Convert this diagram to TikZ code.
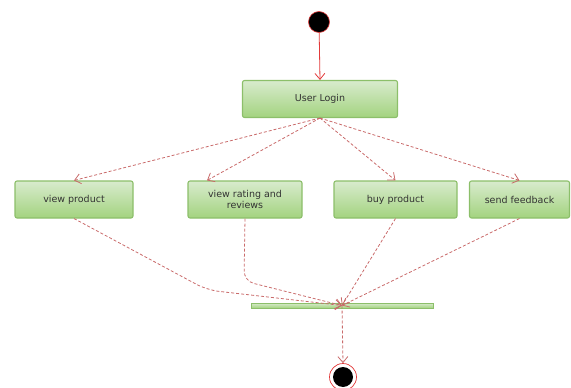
\documentclass[tikz,border=0pt]{standalone}
\usepackage{fontspec}
\setmainfont{DejaVu Sans}
\usetikzlibrary{arrows.meta,calc}
\definecolor{boxline}{HTML}{8CBF6A}
\definecolor{boxtop}{HTML}{D8EBCD}
\definecolor{boxbot}{HTML}{A3D37F}
\definecolor{flow}{HTML}{C96A6A}
\definecolor{startred}{HTML}{E23A3A}
\definecolor{txt}{HTML}{333333}
\tikzset{
  x=1pt, y=-1pt,
  actbox/.style={draw=boxline, line width=1.1pt, rounded corners=2pt,
    top color=boxtop, bottom color=boxbot, minimum height=37pt,
    inner sep=2pt, text=txt, font=\fontsize{9.5}{11}\selectfont, align=center},
  flowline/.style={draw=flow, line width=0.8pt, dash pattern=on 3pt off 2pt,
    -{Straight Barb[length=6pt,width=10pt]}},
  solidflow/.style={draw=startred, line width=0.8pt,
    -{Straight Barb[length=6pt,width=10pt]}},
}
\begin{document}
\begin{tikzpicture}
\useasboundingbox (0,0) rectangle (571,388);
% start
\node[circle, fill=black, draw=startred, line width=0.6pt, minimum size=21pt, inner sep=0pt] (start) at (319,22) {};
% activities
\node[actbox, minimum width=155pt] (login) at (320,99) {User Login};
\node[actbox, minimum width=118pt] (vp) at (74,199.5) {view product};
\node[actbox, minimum width=114pt] (vr) at (245,199.5) {view rating and\\reviews};
\node[actbox, minimum width=123pt] (bp) at (395.5,199.5) {buy product};
\node[actbox, minimum width=100pt] (sf) at (519.5,199.5) {send feedback};
% join bar
\node[draw=boxline, line width=0.8pt, top color=boxtop, bottom color=boxbot,
  minimum width=182pt, minimum height=5pt, inner sep=0pt] (bar) at (342,305.5) {};
% end
\node[circle, draw=startred, fill=white, line width=0.7pt, minimum size=27pt, inner sep=0pt] (end) at (343,377) {};
\node[circle, fill=black, minimum size=20pt, inner sep=0pt] (endin) at (343,377) {};

% connectors
\draw[solidflow] (start) -- (login.north);
\coordinate (vrin) at ([xshift=-38pt]vr.north);
\draw[flowline] (login.south) -- (vp.north);
\draw[flowline] (login.south) -- (vrin);
\draw[flowline] (login.south) -- (bp.north);
\draw[flowline] (login.south) -- (sf.north);

\coordinate (vpbend) at (207,290);
\coordinate (vrbend) at (244,281);
\draw[flowline, rounded corners=12pt] (vp.south) -- (vpbend) -- (bar.center);
\draw[flowline, rounded corners=10pt] (vr.south) -- (vrbend) -- (bar.center);
\draw[flowline] (bp.south) -- (bar.center);
\draw[flowline] (sf.south) -- (bar.center);
\draw[flowline] (bar.center) -- (end.north);
\end{tikzpicture}
\end{document}
